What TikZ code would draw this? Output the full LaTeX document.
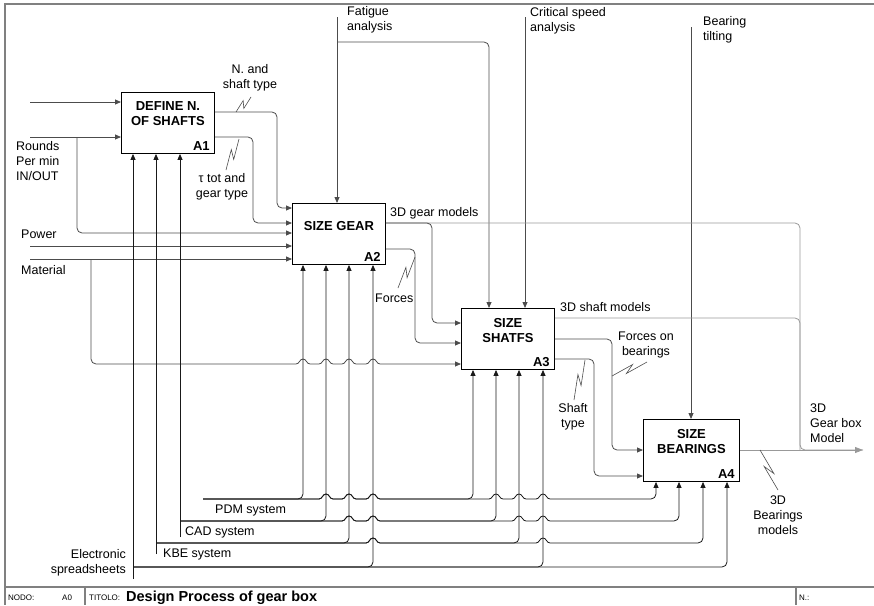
\documentclass[tikz,border=0pt]{standalone}
\usepackage{fontspec}
\setmainfont{Liberation Sans}
\usetikzlibrary{arrows.meta,positioning,calc}

\tikzset{
  frame/.style={draw=black!50, line width=1.2pt},
  proc/.style={draw, line width=0.9pt, minimum width=93pt, minimum height=61pt,
               inner sep=0pt, anchor=north west},
  proctext/.style={font=\fontsize{13}{15}\selectfont\bfseries, align=center, inner sep=0pt},
  procnum/.style={font=\fontsize{13}{15}\selectfont\bfseries, inner sep=0pt},
  lbl/.style={font=\fontsize{12.5}{15}\selectfont, inner sep=0pt},
  small/.style={font=\fontsize{8}{9}\selectfont, inner sep=0pt, anchor=base west},
  flow/.style={draw=black!70, line width=0.8pt, rounded corners=5pt},
  arr/.style={flow, -{Triangle[length=6pt,width=5pt]}},
  mech/.style={arr, draw=black!90},
  model/.style={flow, draw=black!40},
  squig/.style={draw=black!70, line width=0.6pt},
  hop/.style 2 args={insert path={[sharp corners] -- ({#1-7},#2)
      .. controls +(3.5,0) and +(-3.5,0) .. ++(7,-5)
      .. controls +(3.5,0) and +(-3.5,0) .. ++(7,5) -- ++(1,0) [rounded corners=5pt]}},
}
\newcommand{\squiggle}[2]{\draw[squig] (#1) -- ($(#1)!0.62!(#2)!3pt!90:(#2)$)
  -- ($(#1)!0.38!(#2)!3pt!-90:(#2)$) -- (#2);}

\begin{document}
\begin{tikzpicture}[x=1pt, y=-1pt]
    \useasboundingbox (0,0) rectangle (874,605);

    % sheet frame and title row
    \draw[frame] (874,4) -- (5,4) -- (5,605);
    \draw[frame] (5,587) -- (874,587);
    \draw[frame] (85,587) -- (85,605);
    \draw[frame] (796,587) -- (796,605);
    \node[small] (nodo)   at (8,600)  {NODO:};
    \node[small] (nodoA)  at (62,600) {A0};
    \node[small] (titolo) at (89,600) {TITOLO:};
    \node[anchor=base west, inner sep=0pt, font=\fontsize{14.5}{16}\selectfont\bfseries]
         (title) at (126,601) {Design Process of gear box};
    \node[small] (num)    at (799,600) {N.:};

    % activity boxes
    \node[proc] (a1) at (121,92)  {};
    \node[proc] (a2) at (292,203) {};
    \node[proc] (a3) at (461,308) {};
    \node[proc, minimum width=96pt, minimum height=62pt] (a4) at (643,419) {};
    \node[proctext, below=9.5pt of a1.north] (a1t) {DEFINE N.\\OF SHAFTS};
    \node[proctext, below=18pt of a2.north]  (a2t) {SIZE GEAR};
    \node[proctext, below=10pt of a3.north]  (a3t) {SIZE\\SHATFS};
    \node[proctext, below=10pt of a4.north]  (a4t) {SIZE\\BEARINGS};
    \node[procnum, above left=3pt and 5pt of a1.south east] (a1n) {A1};
    \node[procnum, above left=3pt and 5pt of a2.south east] (a2n) {A2};
    \node[procnum, above left=3pt and 5pt of a3.south east] (a3n) {A3};
    \node[procnum, above left=3pt and 5pt of a4.south east] (a4n) {A4};

    % inputs
    \coordinate (in1) at (30,102);
    \coordinate (rpm) at (30,137);
    \coordinate (pow) at (30,246);
    \coordinate (mat) at (30,259);
    \draw[arr] (in1) -- (a1.west |- in1);
    \draw[arr] (rpm) -- (a1.west |- rpm);
    \draw[arr] (rpm -| 77,0) |- (a2.west |- 0,233);
    \draw[arr] (pow) -- (a2.west |- pow);
    \draw[arr] (mat) -- (a2.west |- mat);
    \draw[arr] (mat -| 91,0) -- (91,364) [hop={303}{364}] [hop={326}{364}] [hop={349}{364}]
               [hop={373}{364}] -- (a3.west |- 0,364);
    \node[lbl, anchor=west, align=left] (rpml) at (16,161) {Rounds\\Per min\\IN/OUT};
    \node[lbl, anchor=west] (powl) at (21,234) {Power};
    \node[lbl, anchor=west] (matl) at (21,270) {Material};

    % controls
    \coordinate (fat)  at (337,17);
    \coordinate (crit) at (525,17);
    \coordinate (tilt) at (691,27);
    \draw[arr] (fat) -- (a2.north -| fat);
    \draw[arr] (fat |- 0,42) -| (a3.north -| 489,0);
    \draw[arr] (crit) -- (a3.north -| crit);
    \draw[arr] (tilt) -- (a4.north -| tilt);
    \node[lbl, anchor=west, align=left] (fatl)  at (347,20) {Fatigue\\analysis};
    \node[lbl, anchor=west, align=left] (critl) at (530,21) {Critical speed\\analysis};
    \node[lbl, anchor=west, align=left] (tiltl) at (703,30) {Bearing\\tilting};

    % models leaving the sheet (grey)
    \coordinate (gbm) at (863,450);
    \draw[model] (a2.east |- 0,223) -| (800,450) -- (gbm);
    \draw[model] (a3.east |- 0,318) -| (800,450);
    \draw[model, -{Triangle[length=8pt,width=6pt]}] (a4.east |- 0,450) -- (gbm);

    % internal flows
    \draw[arr] (a1.east |- 0,112) -| (277,208) -- (a2.west |- 0,208);
    \draw[arr] (a1.east |- 0,137) -| (253,223) -- (a2.west |- 0,223);
    \draw[arr] (a2.east |- 0,223) -| (432,323) -- (a3.west |- 0,323);
    \draw[arr] (a2.east |- 0,249) -| (415,343) -- (a3.west |- 0,343);
    \draw[arr] (a3.east |- 0,339) -| (612,450) -- (a4.west |- 0,450);
    \draw[arr] (a3.east |- 0,359) -| (594,476) -- (a4.west |- 0,476);

    % flow labels
    \node[lbl, align=center] (nsl)   at (250,78)  {N. and\\shaft type};
    \node[lbl, align=center] (taul)  at (222,187) {τ tot and\\gear type};
    \node[lbl, anchor=west]  (gml)   at (390,213) {3D gear models};
    \node[lbl, anchor=west]  (frl)   at (375,298) {Forces};
    \node[lbl, anchor=west]  (sml)   at (560,307) {3D shaft models};
    \node[lbl, align=center] (fbl)   at (646,345) {Forces on\\bearings};
    \node[lbl, align=center] (stl)   at (573,417) {Shaft\\type};
    \node[lbl, anchor=west, align=left] (gbml) at (810,423) {3D\\Gear box\\Model};
    \node[lbl, align=center] (bml)   at (778,515) {3D\\Bearings\\models};
    \squiggle{236,112}{251,97}
    \squiggle{226,170}{239,139}
    \squiggle{398,288}{415,257}
    \squiggle{574,400}{585,360}
    \squiggle{612,376}{647,362}
    \squiggle{760,450}{778,490}

    % mechanisms
    \coordinate (pdm) at (203,499);
    \coordinate (cad) at (180,521);
    \coordinate (kbe) at (156,543);
    \coordinate (ess) at (133,567);
    \draw[mech] (ess |- 0,579) -- (a1.south -| ess);
    \draw[mech] (kbe |- 0,554) -- (a1.south -| kbe);
    \draw[mech] (cad |- 0,537) -- (a1.south -| cad);

    \draw[mech] (pdm) -| (a2.south -| 303,0);
    \draw[mech] (pdm) [hop={326}{499}] [hop={349}{499}] [hop={373}{499}] -| (a3.south -| 473,0);
    \draw[mech] (pdm) [hop={326}{499}] [hop={349}{499}] [hop={373}{499}]
                [hop={496}{499}] [hop={519}{499}] [hop={543}{499}] -| (a4.south -| 656,0);

    \draw[mech] (cad) -| (a2.south -| 326,0);
    \draw[mech] (cad) [hop={349}{521}] [hop={373}{521}] -| (a3.south -| 496,0);
    \draw[mech] (cad) [hop={349}{521}] [hop={373}{521}]
                [hop={519}{521}] [hop={543}{521}] -| (a4.south -| 679,0);

    \draw[mech] (kbe) -| (a2.south -| 349,0);
    \draw[mech] (kbe) [hop={373}{543}] -| (a3.south -| 519,0);
    \draw[mech] (kbe) [hop={373}{543}] [hop={543}{543}] -| (a4.south -| 703,0);

    \draw[mech] (ess) -| (a2.south -| 373,0);
    \draw[mech] (ess) -| (a3.south -| 543,0);
    \draw[mech] (ess) -| (a4.south -| 727,0);

    \node[lbl, anchor=west] (pdml) at (215,510) {PDM system};
    \node[lbl, anchor=west] (cadl) at (185,532) {CAD system};
    \node[lbl, anchor=west] (kbel) at (163,554) {KBE system};
    \node[lbl, anchor=east, align=right] (essl) at (126,563) {Electronic\\spreadsheets};
\end{tikzpicture}
\end{document}
